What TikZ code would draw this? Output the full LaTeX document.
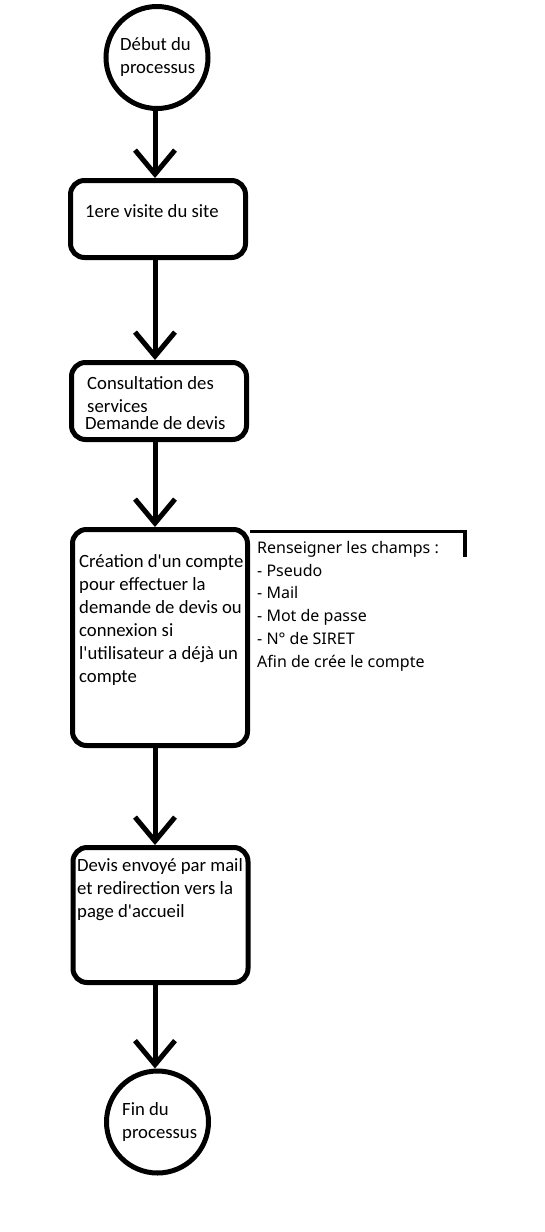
\documentclass[tikz,border=0pt]{standalone}
\usepackage{fontspec}
\setmainfont{Carlito}
\newfontfamily\notefont{Noto Sans}
\usetikzlibrary{arrows.meta}

\begin{document}
\begin{tikzpicture}[x=1pt, y=-1pt,
   etat/.style={draw, line width=5pt, circle, minimum size=102pt, inner sep=0pt},
   boite/.style={draw, line width=5pt, rounded corners=14pt, minimum width=175pt, inner sep=0pt},
   txt/.style={anchor=base west, align=left, inner sep=0pt, font=\fontsize{18.7}{23}\selectfont},
   champs/.style={anchor=base west, align=left, inner sep=0pt, font=\notefont\fontsize{16}{22.7}\selectfont},
   fleche/.style={line width=5pt, -{Straight Barb[length=24pt, width=40pt]}}]
   \useasboundingbox (0,0) rectangle (544,1232);

   % Debut et fin
   \node[etat] (debut) at (157,57.5) {};
   \node[etat] (fin) at (157.5,1122) {};

   % Etapes
   \node[boite, minimum height=77pt] (visite) at (158,219) {};
   \node[boite, minimum height=77pt] (services) at (159,401) {};
   \node[boite, minimum height=216pt] (creation) at (160,637.5) {};
   \node[boite, minimum height=135pt] (envoi) at (160.5,915) {};
   \coordinate (axe) at (155,0);

   % Textes (ancre sur la derniere ligne)
   \node[txt] (tdebut) at (120,73) {Début du\\processus};
   \node[txt] (tvisite) at (85,217) {1ere visite du site};
   \node[txt] (tconsult) at (87,412) {Consultation des\\services};
   \node[txt] (tdemande) at (85,429) {Demande de devis};
   \node[txt] (tcreation) at (79,682) {Création d\textquotesingle un compte\\pour effectuer la\\demande de devis ou\\connexion si\\l\textquotesingle utilisateur a déjà un\\compte};
   \node[txt] (tenvoi) at (77,917) {Devis envoyé par mail\\et redirection vers la\\page d\textquotesingle accueil};
   \node[txt] (tfin) at (122,1138) {Fin du\\processus};

   % Note sur les champs
   \coordinate (coin) at (465,557);
   \draw[line width=3.5pt] ([yshift=-4.5pt]creation.north east) -| (coin);
   \node[champs] (tchamps) at (257,667) {Renseigner les champs :\\- Pseudo\\- Mail\\- Mot de passe\\- N° de SIRET\\Afin de crée le compte};

   % Fleches
   \draw[fleche] (debut.south -| axe) -- (visite.north -| axe);
   \draw[fleche] (visite.south -| axe) -- (services.north -| axe);
   \draw[fleche] (services.south -| axe) -- (creation.north -| axe);
   \draw[fleche] (creation.south -| axe) -- (envoi.north -| axe);
   \draw[fleche] (envoi.south -| axe) -- (fin.north -| axe);
\end{tikzpicture}
\end{document}
